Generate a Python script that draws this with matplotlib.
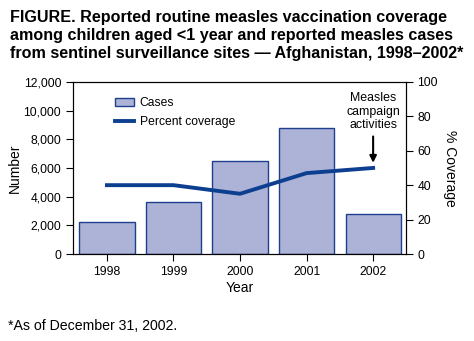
import matplotlib.pyplot as plt
from matplotlib.patches import Patch
from matplotlib.lines import Line2D

plt.rcParams['font.family'] = ['Liberation Sans', 'DejaVu Sans']

years = ['1998', '1999', '2000', '2001', '2002']
cases = [2200, 3600, 6500, 8800, 2800]
coverage = [40, 40, 35, 47, 50]

bar_fill = '#adb3d6'
bar_edge = '#1d3f8e'
line_col = '#0d3f91'

fig = plt.figure(figsize=(4.74, 3.41), dpi=100)
ax = fig.add_axes([0.154, 0.255, 0.702, 0.505])

x = list(range(len(years)))
ax.bar(x, cases, width=0.83, color=bar_fill, edgecolor=bar_edge, linewidth=1.0, zorder=2)
ax.set_xlim(-0.51, 4.49)
ax.set_ylim(0, 12000)
ax.set_yticks(range(0, 12001, 2000))
ax.set_yticklabels([f'{v:,}' for v in range(0, 12001, 2000)])
ax.set_xticks(x)
ax.set_xticklabels(years)
ax.set_xlabel('Year', fontsize=10, labelpad=2)
ax.set_ylabel('Number', fontsize=10, labelpad=1)
ax.tick_params(axis='both', labelsize=8.7, length=5, width=0.8, direction='out')

ax2 = ax.twinx()
ax2.plot(x, coverage, color=line_col, linewidth=2.8, zorder=3)
ax2.set_ylim(0, 100)
ax2.set_yticks(range(0, 101, 20))
ax2.set_ylabel('% Coverage', fontsize=10, rotation=270, labelpad=14)
ax2.tick_params(axis='y', labelsize=8.7, length=5, width=0.8, direction='out')

for a in (ax, ax2):
    for s in a.spines.values():
        s.set_linewidth(0.8)

ax2.annotate('Measles\ncampaign\nactivities', xy=(4, 53), xytext=(4, 71.5),
             ha='center', va='bottom', fontsize=8.9, linespacing=1.15,
             arrowprops=dict(arrowstyle='-|>', color='black', lw=1.5,
                             mutation_scale=10, shrinkA=2, shrinkB=0))

handles = [Patch(facecolor=bar_fill, edgecolor=bar_edge, linewidth=1.0),
           Line2D([0], [0], color=line_col, linewidth=2.8)]
ax2.legend(handles, ['Cases', 'Percent coverage'], loc='upper left',
           bbox_to_anchor=(0.095, 0.975), frameon=False, fontsize=8.7,
           handlelength=1.5, handleheight=0.6, handletextpad=0.5,
           labelspacing=0.55)

fig.text(0.021, 0.97,
         'FIGURE. Reported routine measles vaccination coverage\n'
         'among children aged <1 year and reported measles cases\n'
         'from sentinel surveillance sites \u2014 Afghanistan, 1998\u20132002*',
         fontsize=11.6, fontweight='bold', va='top', ha='left', linespacing=1.25)

fig.text(0.017, 0.022, '*As of December 31, 2002.', fontsize=10.2, ha='left', va='bottom')

fig.savefig('out.png', dpi=100)
